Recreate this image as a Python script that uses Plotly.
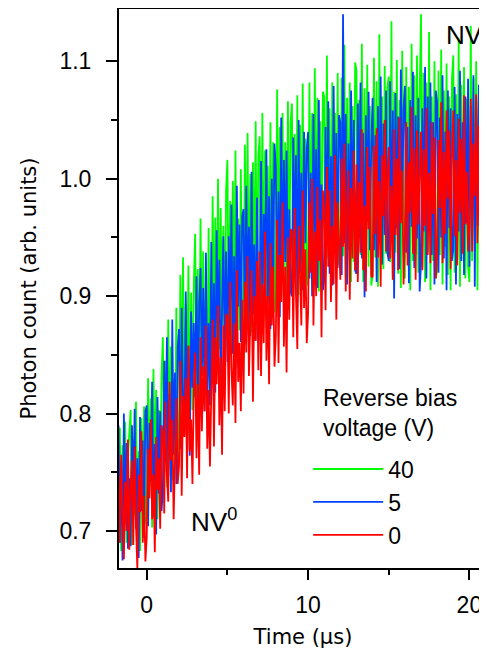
import numpy as np
import plotly.graph_objects as go

# Photon count (x1000, arb. units), sampled uniformly from -1.75 to 21.25 us
red_0V = [748, 690, 765, 712, 676, 742, 700, 778, 684,
          735, 760, 688, 772, 705, 668, 748, 716, 785, 690, 730, 674,
          695, 770, 728, 795, 710, 748, 682, 780, 735, 762, 702, 790,
          785, 715, 810, 747, 725, 827, 760, 795, 710, 777, 813, 740,
          755, 845, 730, 815, 780, 830, 745, 858, 768, 795, 740, 823,
          852, 762, 825, 748, 865, 785, 840, 802, 875, 770, 820, 755,
          810, 880, 772, 865, 825, 892, 790, 848, 765, 875, 802, 885,
          882, 800, 912, 837, 807, 877, 792, 922, 827, 860, 802, 897,
          817, 912, 852, 934, 832, 887, 922, 810, 900, 862, 930, 837,
          938, 832, 910, 860, 955, 845, 900, 825, 945, 875, 925, 840,
          865, 965, 843, 935, 895, 980, 857, 925, 835, 950, 880, 957,
          955, 865, 975, 900, 855, 960, 925, 875, 990, 890, 940, 860,
          885, 980, 920, 1000, 875, 955, 900, 993, 930, 965, 865, 990,
          975, 888, 1010, 925, 990, 895, 960, 910, 1020, 880, 980, 935,
          914, 1017, 942, 1030, 904, 977, 1007, 897, 992, 932, 1024, 922,
          1012, 912, 997, 937, 1042, 922, 977, 904, 1027, 957, 1010, 917,
          916, 1028, 953, 1043, 933, 998, 908, 1020, 968, 1050, 938, 1008,
          1027, 932, 994, 914, 1042, 952, 1017, 922, 1052, 962, 1007, 910,
          951, 1048, 926, 1014, 971, 1061, 936, 1026, 914, 1041, 961, 1004,
          1040, 922, 1025, 960, 1060, 935, 1005, 928, 1048, 970, 1035, 915,
          938, 1033, 975, 1065, 928, 1023, 953, 1058, 983, 1041, 923, 1018,
          1058, 951, 1016, 926, 1051, 971, 1034, 936, 1071, 961, 1006, 938,
          960, 1068, 938, 1030, 985, 1072, 945, 1045, 930, 1025, 970, 1060, 952, 1015, 935, 1050]

blue_5V = [790, 690, 760, 675, 800, 715, 775, 685, 745,
           687, 790, 727, 804, 702, 762, 677, 797, 717, 777, 694, 802,
           807, 704, 792, 742, 827, 712, 774, 697, 814, 732, 802, 717,
           735, 845, 770, 865, 747, 817, 733, 880, 765, 835, 740, 857,
           872, 770, 890, 812, 782, 904, 797, 857, 764, 887, 822, 877,
           814, 917, 797, 892, 924, 832, 907, 802, 937, 817, 877, 807,
           946, 836, 911, 818, 956, 866, 931, 824, 898, 951, 846, 938,
           844, 951, 876, 978, 851, 934, 838, 994, 891, 961, 861, 968,
           974, 859, 994, 899, 959, 866, 1006, 884, 944, 862, 984, 894,
           895, 1015, 878, 970, 920, 1025, 885, 985, 872, 1000, 905, 1030,
           1009, 894, 989, 882, 1052, 914, 1016, 929, 1024, 889, 974, 904,
           900, 1035, 935, 1020, 895, 1050, 920, 1005, 905, 1040, 945, 1025,
           1040, 915, 1005, 900, 1055, 940, 1025, 907, 1067, 930, 995, 905,
           914, 1044, 944, 1066, 919, 1019, 909, 1079, 954, 1039, 924, 1054,
           1048, 918, 1140, 945, 1055, 910, 1030, 930, 1075, 955, 1050, 922,
           919, 1064, 954, 1082, 932, 1039, 899, 1054, 964, 1074, 939, 1029,
           1069, 939, 1037, 912, 1062, 962, 1087, 927, 1047, 952, 1075, 937,
           930, 1083, 953, 1058, 898, 1073, 958, 1053, 923, 1093, 968, 1060,
           1079, 937, 1044, 911, 1067, 959, 1091, 924, 1054, 949, 1069, 904,
           928, 1060, 955, 1095, 915, 1070, 965, 1082, 935, 1048, 910, 1075,
           1065, 920, 1052, 950, 1088, 932, 1040, 905, 1075, 958, 1060, 930,
           940, 1078, 910, 1055, 955, 1092, 930, 1048, 918, 1070, 962, 1085,
           925, 1062, 950, 1088, 908, 1070, 960, 1080, 932, 1055, 915, 1075, 955, 1065, 930, 1050]

green_40V = [698, 788, 683, 773, 718, 793, 690, 763, 783,
             803, 688, 778, 713, 810, 698, 768, 683, 796, 723, 806, 706,
             718, 830, 738, 813, 703, 838, 748, 820, 710, 803, 728, 833,
             865, 750, 845, 737, 880, 775, 857, 743, 830, 760, 890, 755,
             788, 918, 808, 933, 783, 893, 823, 926, 778, 903, 803, 910,
             953, 816, 923, 808, 966, 843, 938, 820, 908, 810, 958, 833,
             840, 985, 865, 967, 833, 1000, 855, 975, 875, 960, 837, 990,
             1016, 866, 981, 851, 998, 881, 1024, 858, 966, 871, 1008, 864,
             874, 1029, 894, 1039, 882, 1004, 869, 1014, 904, 1049, 886, 1019,
             1036, 891, 1056, 911, 1024, 884, 1011, 896, 1048, 906, 1031, 886,
             904, 1076, 911, 1044, 896, 1056, 921, 1031, 891, 1066, 906, 1048,
             1064, 906, 1038, 921, 1071, 901, 1046, 928, 1081, 908, 1034, 916,
             909, 1082, 929, 1056, 916, 1094, 934, 1069, 904, 1049, 924, 1074,
             1070, 918, 1105, 932, 1060, 910, 1082, 940, 1056, 915, 1090, 928,
             924, 1086, 934, 1114, 916, 1069, 939, 1082, 912, 1062, 929, 1099,
             1092, 919, 1067, 935, 1115, 912, 1077, 942, 1097, 925, 1062, 909,
             918, 1103, 933, 1083, 908, 1123, 940, 1070, 923, 1096, 936, 1078,
             1087, 929, 1134, 914, 1074, 937, 1101, 919, 1067, 907, 1109, 939,
             915, 1095, 940, 1078, 905, 1115, 930, 1088, 935, 1105, 920, 1072,
             1140, 925, 1090, 912, 1082, 938, 1125, 905, 1070, 930, 1100, 915,
             922, 1092, 935, 1110, 910, 1075, 942, 1098, 918, 1070, 905, 1085,
             1105, 920, 1072, 932, 1120, 908, 1080, 940, 1095, 915, 1068, 925,
             912, 1130, 930, 1085, 938, 1100, 905, 1078, 925, 1115, 940, 1090, 915, 1072, 932, 1095]

t_start, t_end = -1.75, 21.25
series = [("40", green_40V, "#00ff00"),
          ("5", blue_5V, "#0040ff"),
          ("0", red_0V, "#ff0000")]
legend_title = "Reverse bias<br>voltage (V)"

SANS = "Liberation Sans"
WIDE = "DejaVu Sans"
fig = go.Figure()
for name, vals, col in series:
    y = np.array(vals) / 1000.0
    t = np.linspace(t_start, t_end, len(y))
    fig.add_trace(go.Scatter(x=t, y=y, mode="lines", name=name, legendgroup=name,
                             line=dict(color=col, width=1.8)))

fig.update_layout(
    width=487, height=650,
    margin=dict(l=111, r=8, t=1, b=90),
    paper_bgcolor="white", plot_bgcolor="white",
    font=dict(family=SANS, size=22, color="black"),
    showlegend=True,
    legend=dict(
        font=dict(family=SANS, size=23),
        x=0.514, y=0.2155, xanchor="left", yanchor="top",
        bgcolor="rgba(0,0,0,0)", traceorder="normal",
        tracegroupgap=5, itemwidth=70,
    ),
    xaxis=dict(
        range=[-1.72, 21.09], showgrid=False, zeroline=False, automargin=False,
        showline=True, linecolor="black", linewidth=2, mirror=True,
        ticks="outside", ticklen=10, tickwidth=2, tickcolor="black",
        tickvals=[0, 10, 20], ticktext=["0", "10", "20"], ticklabelstandoff=5,
        minor=dict(tickvals=[5, 15], ticklen=5, tickwidth=2, tickcolor="black", ticks="outside"),
        title=dict(text="Time (\u03bcs)", standoff=13, font=dict(family=WIDE, size=21)),
        tickfont=dict(family=SANS, size=23),
    ),
    yaxis=dict(
        range=[0.6685, 1.1445], showgrid=False, zeroline=False, automargin=False,
        showline=True, linecolor="black", linewidth=2, mirror=False,
        ticks="outside", ticklen=11, tickwidth=2, tickcolor="black",
        tickvals=[0.7, 0.8, 0.9, 1.0, 1.1], ticktext=["0.7", "0.8", "0.9", "1.0", "1.1"],
        ticklabelstandoff=10,
        minor=dict(tickvals=[0.75, 0.85, 0.95, 1.05], ticklen=6, tickwidth=2, tickcolor="black", ticks="outside"),
        title=dict(text="Photon count (arb. units)", standoff=17, font=dict(family=WIDE, size=21)),
        tickfont=dict(family=SANS, size=23),
    ),
    annotations=[
        dict(x=2.6, y=0.709, xref="x", yref="y", text="NV<sup>0</sup>", showarrow=False,
             xanchor="left", yanchor="middle", font=dict(family=SANS, size=26)),
        dict(x=18.4, y=1.124, xref="x", yref="y", text="NV<sup>\u2212</sup>", showarrow=False,
             xanchor="left", yanchor="middle", font=dict(family=SANS, size=26)),
        dict(x=0.548, y=0.278, xref="paper", yref="paper", text=legend_title, showarrow=False,
             xanchor="left", yanchor="middle", align="left", font=dict(family=SANS, size=23)),
    ],
)

fig.write_html("out.html")
